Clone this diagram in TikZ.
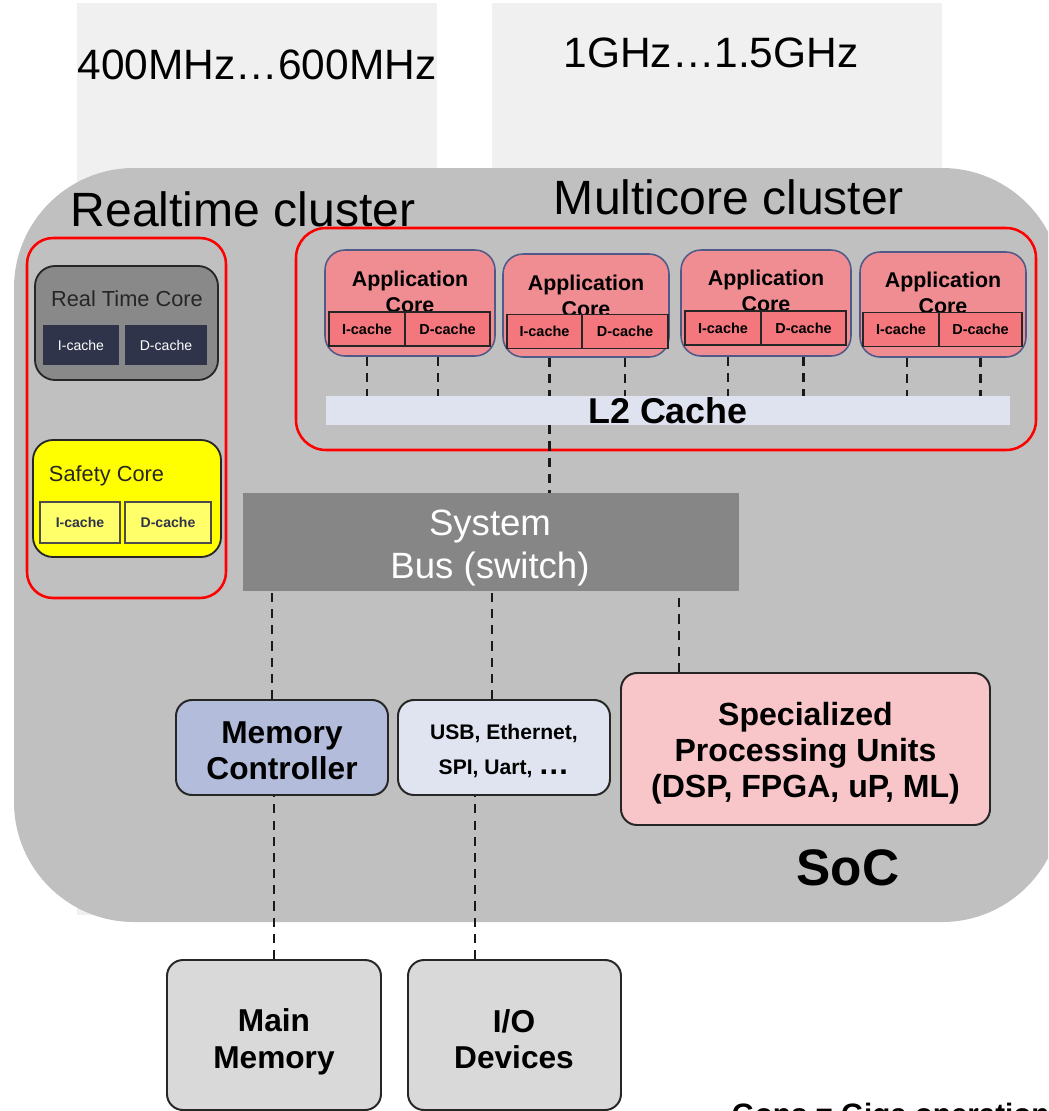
\documentclass[tikz,border=0pt]{standalone}
\usepackage{fontspec}
\setmainfont{Liberation Sans}
\usepackage{xcolor}
\usepackage{tikz}
\usetikzlibrary{fit,positioning,calc}
\definecolor{colbg}{HTML}{F0F0F0}
\definecolor{socgray}{HTML}{C0C0C0}
\definecolor{rtgray}{HTML}{898989}
\definecolor{navy}{HTML}{2F344A}
\definecolor{safeyel}{HTML}{FFFF00}
\definecolor{safelite}{HTML}{FFFF6A}
\definecolor{appfill}{HTML}{F08D92}
\definecolor{appstrip}{HTML}{F3777C}
\definecolor{appedge}{HTML}{4F5A88}
\definecolor{l2fill}{HTML}{DFE3F0}
\definecolor{busgray}{HTML}{868686}
\definecolor{memfill}{HTML}{B3BDDB}
\definecolor{usbfill}{HTML}{E0E4F1}
\definecolor{specfill}{HTML}{F8C6C9}
\definecolor{extfill}{HTML}{D9D9D9}
\tikzset{
  colbox/.style={fill=colbg, inner sep=0pt},
  socbox/.style={fill=socgray, rounded corners=3cm, inner sep=0pt},
  clusterbox/.style={draw=red, line width=1.8pt, rounded corners=0.65cm, inner sep=0pt},
  rtcore/.style={draw=black!85, fill=rtgray, line width=1.3pt, rounded corners=0.5cm, inner sep=0pt},
  rtcache/.style={fill=navy, text=white, inner sep=0pt, minimum height=1cm, font=\fontsize{10}{12}\selectfont},
  safecore/.style={draw=black!85, fill=safeyel, line width=1.3pt, rounded corners=0.5cm, inner sep=0pt},
  safecache/.style={draw=black!70, fill=safelite, line width=0.8pt, inner sep=0pt, minimum height=1.025cm, text=navy, font=\bfseries\fontsize{10}{12}\selectfont},
  appcore/.style={draw=appedge, fill=appfill, line width=1.1pt, rounded corners=0.5cm, inner sep=0pt},
  appcache/.style={draw=black!85, fill=appstrip, line width=1.1pt, inner sep=0pt, minimum height=0.84cm, font=\bfseries\fontsize{10.3}{12}\selectfont},
  applab/.style={align=center, font=\bfseries\fontsize{15.2}{18.5}\selectfont},
  l2bar/.style={fill=l2fill, inner sep=0pt},
  busbox/.style={fill=busgray, inner sep=0pt},
  unitbox/.style={draw=black!85, line width=1.4pt, rounded corners=0.4cm, inner sep=0pt},
  link/.style={draw=black!90, line width=1.9pt, dash pattern=on 6.5pt off 5pt},
  freqlab/.style={font=\fontsize{30.2}{35}\selectfont},
  clusterlab/.style={font=\fontsize{34.2}{40}\selectfont},
  corelab/.style={text=black!85, font=\fontsize{15.5}{18}\selectfont},
}
\begin{document}
\begin{tikzpicture}[x=0.025cm, y=-0.025cm]
\useasboundingbox (0,0) rectangle (1048,1111);
\clip (0,0) rectangle (1048,1111);
% clock ranges
\node[colbox, fit={(77,3) (437,915)}] (colrt) {};
\node[colbox, fit={(492,3) (942,600)}] (colmc) {};
\node[freqlab] at (257,65) (freqrt) {400MHz…600MHz};
\node[freqlab] at (711,53) (freqmc) {1GHz…1.5GHz};
% SoC
\node[socbox, fit={(14,168) (1062,922)}] (soc) {};
\node[font=\bfseries\fontsize{36.5}{42}\selectfont] at (848,868) (soclab) {SoC};
\node[clusterlab] at (243,209) (rtlab) {Realtime cluster};
\node[clusterlab] at (729,197) (mclab) {Multicore cluster};
% realtime cluster
\node[clusterbox, fit={(27,238) (226,598)}] (rtcl) {};
\node[rtcore, fit={(35,266) (218,380)}] (rtc) {};
\node[corelab] at (127,299) (rtctext) {Real Time Core};
\node[rtcache, minimum width=1.9cm] at (81,345) (rtci) {I-cache};
\node[rtcache, minimum width=2.05cm] at (166,345) (rtcd) {D-cache};
\node[safecore, fit={(33,440) (221,557)}] (safe) {};
\node[corelab, anchor=west] at (44,476) (safetext) {Safety Core};
\node[safecache, minimum width=2cm] at (80,522.5) (safei) {I-cache};
\node[safecache, minimum width=2.15cm] at (168,522.5) (safed) {D-cache};
% multicore cluster
\node[clusterbox, rounded corners=0.75cm, fit={(296,228) (1036,450)}] (mccl) {};
\node[appcore, fit={(325,250) (495,356)}] (core1) {};
\node[appcore, fit={(503,254) (669,357)}] (core2) {};
\node[appcore, fit={(681,250) (851,356)}] (core3) {};
\node[appcore, fit={(860,252) (1026,357)}] (core4) {};
\node[applab] at (410,292) (core1lab) {Application\\Core};
\node[applab] at (586,296) (core2lab) {Application\\Core};
\node[applab] at (766,291) (core3lab) {Application\\Core};
\node[applab] at (943,293) (core4lab) {Application\\Core};
\node[appcache, minimum width=1.9cm] at (367,329) (c1i) {I-cache};
\node[appcache, minimum width=2.125cm] at (447.5,329) (c1d) {D-cache};
\node[appcache, minimum width=1.875cm] at (544.5,331.5) (c2i) {I-cache};
\node[appcache, minimum width=2.15cm] at (625,331.5) (c2d) {D-cache};
\node[appcache, minimum width=1.9cm] at (723,328) (c3i) {I-cache};
\node[appcache, minimum width=2.125cm] at (803.5,328) (c3d) {D-cache};
\node[appcache, minimum width=1.9cm] at (901,329.5) (c4i) {I-cache};
\node[appcache, minimum width=2.075cm] at (980.5,329.5) (c4d) {D-cache};
\node[l2bar, fit={(326,396) (1010,425)}] (l2) {};
\draw[link] (c1i |- core1.south) -- (c1i |- l2.north);
\draw[link] ([xshift=-6.8pt]c1d.south |- core1.south) -- ([xshift=-6.8pt]c1d.south |- l2.north);
\draw[link] ([xshift=3.6pt]c2i.south |- core2.south) -- ([xshift=3.6pt]c2i.south |- l2.north);
\draw[link] (c2d |- core2.south) -- (c2d |- l2.north);
\draw[link] ([xshift=3.6pt]c3i.south |- core3.south) -- ([xshift=3.6pt]c3i.south |- l2.north);
\draw[link] (c3d |- core3.south) -- (c3d |- l2.north);
\draw[link] ([xshift=4.3pt]c4i.south |- core4.south) -- ([xshift=4.3pt]c4i.south |- l2.north);
\draw[link] (c4d |- core4.south) -- (c4d |- l2.north);
\node[font=\bfseries\fontsize{25.5}{30}\selectfont] at (l2) (l2lab) {L2 Cache};
% bus and units
\node[busbox, fit={(243,493) (739,591)}] (bus) {};
\node[text=white, align=center, font=\fontsize{26}{30.6}\selectfont] at (490,548) (buslab) {System\\Bus (switch)};
\draw[link] ([xshift=3.6pt]c2i.south |- l2.south) -- ([xshift=3.6pt]c2i.south |- bus.north);
\node[unitbox, fill=memfill, fit={(176,700) (388,795)}] (memctrl) {};
\node[align=center, font=\bfseries\fontsize{22.5}{25.6}\selectfont] at (282,751) (memlab) {Memory\\Controller};
\node[unitbox, fill=usbfill, fit={(398,700) (610,795)}] (usb) {};
\node[align=center, font=\bfseries\fontsize{15}{25}\selectfont] at (504,751) (usblab) {USB, Ethernet,\\SPI, Uart, \textbf{\fontsize{22}{25}\selectfont…}};
\node[unitbox, fill=specfill, fit={(621,673) (990,825)}] (spec) {};
\node[align=center, font=\bfseries\fontsize{22.8}{25.6}\selectfont] at (805.5,753) (speclab) {Specialized\\Processing Units\\(DSP, FPGA, uP, ML)};
\draw[link] ([xshift=-7pt]memctrl.north) -- ([xshift=-7pt]memctrl.north |- bus.south);
\draw[link] ([xshift=-8.5pt]usb.north) -- ([xshift=-8.5pt]usb.north |- bus.south);
\draw[link] ([xshift=42pt]spec.north west) -- ([xshift=42pt]spec.north west |- bus.south);
% external
\node[unitbox, fill=extfill, fit={(167,960) (381,1110)}] (mainmem) {};
\node[align=center, font=\bfseries\fontsize{22.5}{26}\selectfont] at (274,1042) (mainlab) {Main\\Memory};
\node[unitbox, fill=extfill, fit={(408,960) (621,1110)}] (io) {};
\node[align=center, font=\bfseries\fontsize{22.5}{26}\selectfont] at (514,1039) (iolab) {I/O\\Devices};
\draw[link] (mainmem.north) -- (mainmem.north |- memctrl.south);
\draw[link] ([xshift=-28pt]io.north) -- ([xshift=-28pt]io.north |- usb.south);
\node[anchor=base west, font=\bfseries\fontsize{21}{25}\selectfont] at (727,1124) (gops) {Gops = Giga operations};
\end{tikzpicture}
\end{document}
